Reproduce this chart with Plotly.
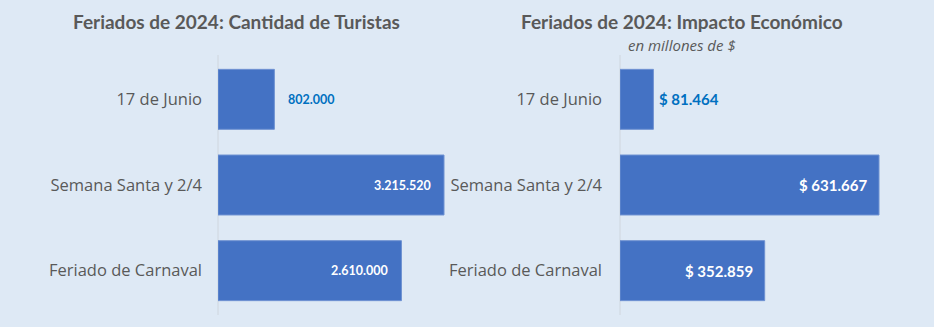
import plotly.graph_objects as go

categories = ["17 de Junio", "Semana Santa y 2/4", "Feriado de Carnaval"]
turistas = [802000, 3215520, 2610000]
impacto = [81464, 631667, 352859]
turistas_labels = ["802.000", "3.215.520", "2.610.000"]
impacto_labels = ["$ 81.464", "$ 631.667", "$ 352.859"]
label_inside = [False, True, True]

W, H = 934, 327
BG = "#dee9f5"
BAR = "#4472c4"
GRAY = "#595959"
BLUE = "#0070c0"
FONT = "Lato"
FONT2 = "Open Sans"

fig = go.Figure()
fig.add_trace(go.Bar(y=categories, x=turistas, orientation="h", marker=dict(color=BAR, line=dict(color="#6f92d2", width=1)),
                     xaxis="x", yaxis="y", hoverinfo="skip"))
fig.add_trace(go.Bar(y=categories, x=impacto, orientation="h", marker=dict(color=BAR, line=dict(color="#6f92d2", width=1)),
                     xaxis="x2", yaxis="y2", hoverinfo="skip"))

# pixel geometry
lx0, lx1 = 218, 462
rx0, rx1 = 620, 915
left_max = 3215520 * (lx1 - lx0) / 226
right_max = 631667 * (rx1 - rx0) / 259
ytop, ybot = 56.5, 313.5
ydom = [1 - ybot / H, 1 - ytop / H]

yaxis_common = dict(type="category", categoryorder="array", categoryarray=categories, autorange="reversed",
                    showgrid=False, zeroline=False, showline=False, ticks="",
                    tickfont=dict(family=FONT2, size=16.5, color=GRAY), domain=ydom, fixedrange=True)

fig.update_layout(
    width=W, height=H, margin=dict(l=0, r=0, t=0, b=0),
    paper_bgcolor=BG, plot_bgcolor=BG, showlegend=False, bargap=0.3,
    font=dict(family=FONT, color=GRAY),
    xaxis=dict(domain=[lx0 / W, lx1 / W], range=[0, left_max], visible=False, fixedrange=True),
    xaxis2=dict(domain=[rx0 / W, rx1 / W], range=[0, right_max], visible=False, fixedrange=True),
    yaxis=dict(anchor="x", ticklabelstandoff=15, **yaxis_common),
    yaxis2=dict(anchor="x2", ticklabelstandoff=17, **yaxis_common),
)

# vertical axis lines
for x0 in (lx0, rx0):
    fig.add_shape(type="line", xref="paper", yref="paper", x0=x0 / W, x1=x0 / W, y0=1 - 315 / H, y1=1 - 55 / H,
                  line=dict(color="#cfd6de", width=1), layer="below")

# value labels
for xa, ya, vals, labs, size in (("x", "y", turistas, turistas_labels, 12.5), ("x2", "y2", impacto, impacto_labels, 15)):
    for cat, v, lab, ins in zip(categories, vals, labs, label_inside):
        if ins:
            fig.add_annotation(x=v, y=cat, xref=xa, yref=ya, text=f"<b>{lab}</b>", showarrow=False,
                               xanchor="right", xshift=-10 if xa == "x2" else -11,
                               font=dict(family=FONT, size=size, color="white"))
        else:
            fig.add_annotation(x=v, y=cat, xref=xa, yref=ya, text=f"<b>{lab}</b>", showarrow=False,
                               xanchor="left", xshift=12 if xa == "x" else 4,
                               font=dict(family=FONT, size=size, color=BLUE))

# titles
fig.add_annotation(x=236 / W, y=1 - 22 / H, xref="paper", yref="paper", text="<b>Feriados de 2024: Cantidad de Turistas</b>",
                   showarrow=False, xanchor="center", yanchor="middle", font=dict(family=FONT, size=19, color=GRAY))
fig.add_annotation(x=682 / W, y=1 - 22 / H, xref="paper", yref="paper", text="<b>Feriados de 2024: Impacto Económico</b>",
                   showarrow=False, xanchor="center", yanchor="middle", font=dict(family=FONT, size=19, color=GRAY))
fig.add_annotation(x=682 / W, y=1 - 45 / H, xref="paper", yref="paper", text="<i>en millones de $</i>",
                   showarrow=False, xanchor="center", yanchor="middle", font=dict(family=FONT2, size=15, color=GRAY))

fig.write_html("out.html", config={"displayModeBar": False})
